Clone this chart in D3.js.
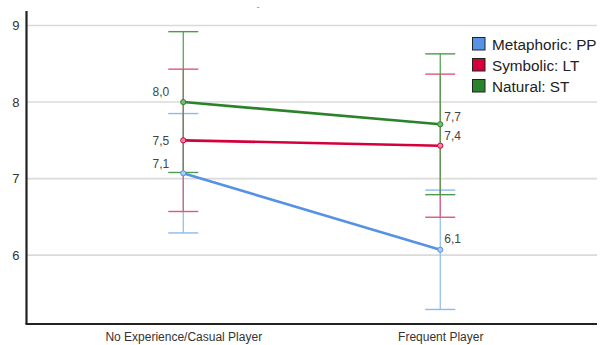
<!DOCTYPE html>
<html>
<head>
<meta charset="utf-8">
<script src="https://cdn.jsdelivr.net/npm/d3@7"></script>
<style>
  html, body { margin: 0; padding: 0; background: #fff; }
  svg { display: block; font-family: "Liberation Sans", Arial, sans-serif; }
</style>
</head>
<body>
<svg id="chart" width="606" height="345"></svg>
<script>
// Groups on the x axis
const groups = ["No Experience/Casual Player", "Frequent Player"];
// Series (legend order)
const seriesNames = ["Metaphoric: PP", "Symbolic: LT", "Natural: ST"];
// Mean per series, one value per group
const meanMetaphoric = [7.07, 6.07];
const meanSymbolic   = [7.50, 7.43];
const meanNatural    = [8.00, 7.71];
// Error bar half-widths per series, one per group
const errMetaphoric = [0.78, 0.78];
const errSymbolic   = [0.93, 0.935];
const errNatural    = [0.92, 0.92];
// Y axis ticks
const yTicks = [6, 7, 8, 9];

const seriesColors = ["#5592e6", "#d4003a", "#2a832a"];
const errColors    = ["#8cbaf0", "#e0577a", "#4c9c4c"];
const fillColors   = ["#a9cbf4", "#ea8aa3", "#7cb87c"];

const series = seriesNames.map((name, i) => ({
  name,
  means: [meanMetaphoric, meanSymbolic, meanNatural][i],
  errs: [errMetaphoric, errSymbolic, errNatural][i],
  color: seriesColors[i],
  errColor: errColors[i],
  fill: fillColors[i]
}));

// label placement per series: [group1 side, group2 side]
const labelPlace = [
  [{dx: -14, dy: -5, anchor: "end"}, {dx: 4, dy: -7, anchor: "start"}],
  [{dx: -14, dy: 5,  anchor: "end"}, {dx: 4, dy: -6, anchor: "start"}],
  [{dx: -14, dy: -6, anchor: "end"}, {dx: 4, dy: -3, anchor: "start"}]
];

const svg = d3.select("#chart");
const plotLeft = 26.5, plotRight = 597, plotTop = 11, plotBottom = 324;

const x = d3.scalePoint().domain(groups).range([plotLeft, plotRight]).padding(0.61);
const y = d3.scaleLinear().domain([5.1, 9.19]).range([plotBottom, plotTop]);

// grid lines
svg.append("g")
  .selectAll("line")
  .data(yTicks)
  .join("line")
  .attr("x1", plotLeft).attr("x2", plotRight)
  .attr("y1", d => y(d)).attr("y2", d => y(d))
  .attr("stroke", "#dadada").attr("stroke-width", 1.6);

// y axis
const yAxis = svg.append("g")
  .attr("transform", `translate(${plotLeft},0)`)
  .call(d3.axisLeft(y).tickValues(yTicks).tickSize(0).tickPadding(7).tickFormat(d3.format("d")));
yAxis.select(".domain").remove();
yAxis.selectAll("text").attr("font-size", 13).attr("fill", "#333").attr("font-family", "Liberation Sans, Arial, sans-serif");

svg.append("line")
  .attr("x1", plotLeft).attr("x2", plotLeft).attr("y1", plotTop).attr("y2", plotBottom)
  .attr("stroke", "#222").attr("stroke-width", 2.2);

// x axis
const xAxis = svg.append("g")
  .attr("transform", `translate(0,${plotBottom})`)
  .call(d3.axisBottom(x).tickSize(0).tickPadding(8));
xAxis.select(".domain").remove();
xAxis.selectAll("text").attr("font-size", 12).attr("fill", "#333").attr("font-family", "Liberation Sans, Arial, sans-serif");

svg.append("line")
  .attr("x1", plotLeft - 1).attr("x2", plotRight).attr("y1", plotBottom).attr("y2", plotBottom)
  .attr("stroke", "#222").attr("stroke-width", 2.2);

// error bars
const capHalf = 15;
series.forEach(s => {
  const g = svg.append("g");
  groups.forEach((grp, j) => {
    const cx = x(grp);
    const lo = s.means[j] - s.errs[j], hi = s.means[j] + s.errs[j];
    g.append("line").attr("x1", cx).attr("x2", cx).attr("y1", y(lo)).attr("y2", y(hi))
      .attr("stroke", s.errColor).attr("stroke-width", 1.2);
    [lo, hi].forEach(v => {
      g.append("line").attr("x1", cx - capHalf).attr("x2", cx + capHalf)
        .attr("y1", y(v)).attr("y2", y(v))
        .attr("stroke", s.errColor).attr("stroke-width", 1.4);
    });
  });
});

// mean lines and points
const line = d3.line().x((d, j) => x(groups[j])).y(d => y(d));
series.forEach(s => {
  svg.append("path").datum(s.means).attr("d", line)
    .attr("fill", "none").attr("stroke", s.color).attr("stroke-width", 2.6);
  svg.append("g").selectAll("circle").data(s.means).join("circle")
    .attr("cx", (d, j) => x(groups[j])).attr("cy", d => y(d)).attr("r", 2.6)
    .attr("fill", s.fill).attr("stroke", s.color).attr("stroke-width", 1);
});

// value labels
const fmt = v => d3.format(".1f")(v).replace(".", ",");
series.forEach((s, i) => {
  s.means.forEach((v, j) => {
    const p = labelPlace[i][j];
    svg.append("text")
      .attr("x", x(groups[j]) + p.dx).attr("y", y(v) + p.dy)
      .attr("text-anchor", p.anchor)
      .attr("font-size", 12).attr("fill", "#444")
      .text(fmt(v));
  });
});

// legend
const legend = svg.append("g").attr("transform", "translate(472,37)");
series.forEach((s, i) => {
  const row = legend.append("g").attr("transform", `translate(0,${i * 21})`);
  row.append("rect").attr("x", 0.5).attr("y", 0.5).attr("width", 12.5).attr("height", 12.5)
    .attr("fill", s.color).attr("stroke", "#222").attr("stroke-width", 1);
  row.append("text").attr("x", 20).attr("y", 12.5)
    .attr("font-size", 15.3).attr("fill", "#222").text(s.name);
});

// clipped title remnant at top
svg.append("text").attr("x", 258).attr("y", 9).attr("text-anchor", "middle")
  .attr("font-size", 8).attr("fill", "#555").text("-");
</script>
</body>
</html>
